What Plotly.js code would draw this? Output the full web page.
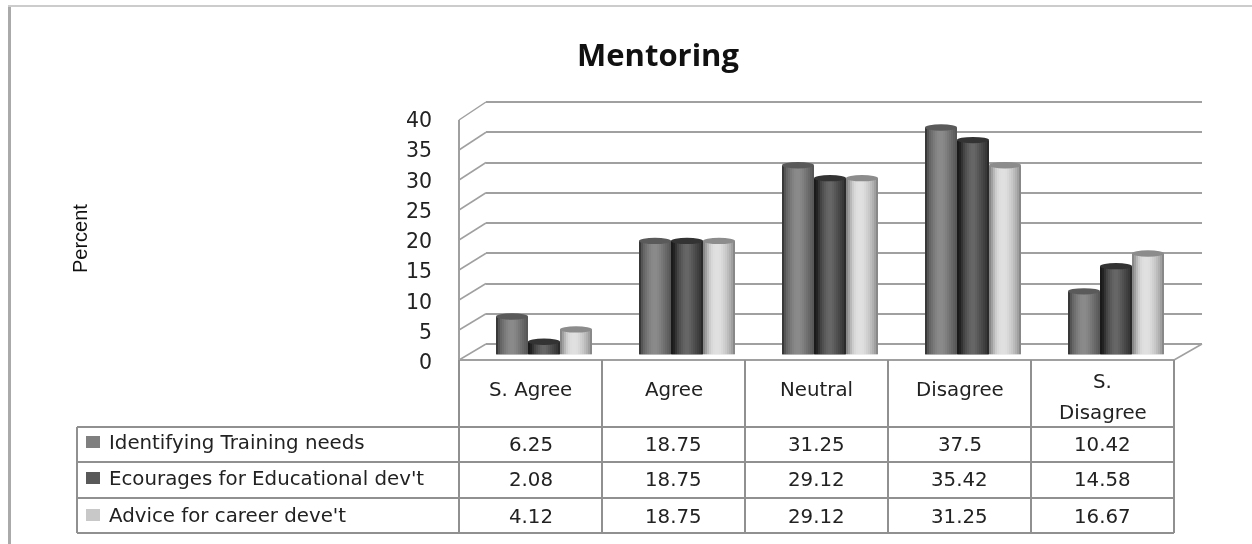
<!DOCTYPE html>
<html><head><meta charset="utf-8">
<script src="https://cdn.plot.ly/plotly-3.0.1.min.js"></script>
<style>html,body{margin:0;padding:0;background:#fff}#c{width:1252px;height:544px;filter:blur(0.5px)}</style>
</head><body><div id="c"></div>
<script>
const categories = ["S. Agree","Agree","Neutral","Disagree","S.<br>Disagree"];
const seriesNames = ["Identifying Training needs","Ecourages for Educational dev't","Advice for career deve't"];
const training = [6.25,18.75,31.25,37.5,10.42];
const educational = [2.08,18.75,29.12,35.42,14.58];
const career = [4.12,18.75,29.12,31.25,16.67];
const yTicks = [0,5,10,15,20,25,30,35,40];
const all = [training,educational,career];

const W=1252,H=544;
const px=x=>x/W, py=y=>(H-y)/H;
const FONT="DejaVu Sans, Verdana, sans-serif", TXT="#222", GRID="#a0a0a0", TGRID="#909090";

// shading ramps, one per cylinder, left edge to right edge
const ramps=[
 ["#383838","#555555","#666666","#707070","#7a7a7a","#828282","#888888","#8a8a8a","#8a8a8a","#868686","#808080","#787878","#707070","#686868","#606060","#585858"],
 ["#1a1a1a","#222222","#333333","#444444","#505050","#5a5a5a","#626262","#666666","#666666","#606060","#585858","#505050","#484848","#404040","#383838","#2a2a2a"],
 ["#888888","#a0a0a0","#b8b8b8","#cccccc","#d8d8d8","#dedede","#e0e0e0","#e0e0e0","#dedede","#d8d8d8","#d0d0d0","#c8c8c8","#bcbcbc","#b0b0b0","#a0a0a0","#888888"]];
const topCol=["#5a5a5a","#333333","#8c8c8c"];
const swatch=["#7f7f7f","#595959","#c8c8c8"];

// cylinder geometry in category units: one category spans 143 px
const unit=1/143, sliceW=2*unit, barW=32*unit;
const gap=[-47.5*unit,-15.5*unit,16.5*unit];
const traces=[];
traces.push({type:"scatter",x:[0],y:[0],xaxis:"x",yaxis:"y",mode:"none",showlegend:false,hoverinfo:"skip"});
traces.push({type:"scatter",x:[0],y:[0],xaxis:"x3",yaxis:"y3",mode:"none",showlegend:false,hoverinfo:"skip"});
all.forEach((vals,s)=>{
  ramps[s].forEach((col,i)=>{
    traces.push({type:"bar",x:[0,1,2,3,4],y:vals,xaxis:"x2",yaxis:"y2",
      name:seriesNames[s],showlegend:false,hoverinfo:"skip",
      offset:gap[s]+i*sliceW,width:sliceW,
      marker:{color:col,line:{width:0}}});
  });
});

const shapes=[],ann=[];
const L=(x0,y0,x1,y1,c=GRID,w=2)=>shapes.push({type:"line",xref:"paper",yref:"paper",x0:px(x0),y0:py(y0),x1:px(x1),y1:py(y1),line:{color:c,width:w},layer:"below"});

// outer picture frame
L(9.5,5,9.5,544,"#aaaaaa",3); L(8,6,1252,6,"#cccccc",2);

// wall/floor frame
const fx=459,bx=486,fr=1174,br=1202,f0=360,f40=120,b0=344,b40=102;
const bStep=(b0-b40)/40;
yTicks.forEach(t=>{
  const fy=f0+(f40-f0)*t/40, by=b0+(b40-b0)*t/40;
  L(fx,fy,bx,by,GRID,1.5);
});
L(fx,f40,fx,f0); L(fx,f0,fr,f0); L(fr,f0,br,b0,GRID,1.5);

// table grid
const colX=[459,602,745,888,1031,1174];
const r0=360,r1=427,r2=462,r3=498,r4=533,tl=77;
colX.forEach(x=>L(x,r0,x,r4,TGRID));
L(tl,r1,tl,r4,TGRID);
[r1,r2,r3,r4].forEach(y=>L(tl,y,fr,y,TGRID));

// cylinder caps and feet, data-referenced
all.forEach((vals,s)=>vals.forEach((v,c)=>{
  const x0=c+gap[s],x1=x0+barW;
  shapes.push({type:"circle",xref:"x2",yref:"y2",x0,x1,y0:-0.3,y1:0.3,fillcolor:ramps[s][7],line:{width:0},layer:"below"});
  shapes.push({type:"circle",xref:"x2",yref:"y2",x0,x1,y0:v-0.5,y1:v+0.55,fillcolor:topCol[s],line:{width:0},layer:"above"});
}));

// table text
const T=(text,x,y,o={})=>ann.push(Object.assign({text,x,y,xref:"paper",yref:"paper",showarrow:false,font:{family:FONT,size:19.8,color:TXT},xanchor:"center",yanchor:"middle"},o));
const rowY=[444,479.5,516], labelY=[442,478,515];
categories.forEach((c,i)=>{
  const parts=c.split("<br>"), cx=px((colX[i]+colX[i+1])/2);
  if(parts.length==1) T(c,cx,py(389));
  else { T(parts[0],cx,py(381)); T(parts[1],cx,py(412)); }
});
all.forEach((vals,s)=>{
  T(seriesNames[s],px(107),py(labelY[s]),{xanchor:"left"});
  shapes.push({type:"rect",xref:"paper",yref:"paper",x0:px(86),x1:px(100),y0:py(labelY[s]-6),y1:py(labelY[s]+6),fillcolor:swatch[s],line:{width:0}});
  vals.forEach((v,i)=>T(String(v),px((colX[i]+colX[i+1])/2),py(rowY[s])));
});
T("Percent",px(80),py(239),{textangle:-90,font:{family:"Liberation Sans, Arial, sans-serif",size:20,color:"#111"}});

const layout={
  width:W,height:H,margin:{l:0,r:0,t:0,b:0},paper_bgcolor:"#fff",plot_bgcolor:"rgba(0,0,0,0)",
  showlegend:false,barmode:"overlay",
  title:{text:"<b>Mentoring</b>",x:658/W,xanchor:"center",y:py(55),yanchor:"middle",font:{family:"Open Sans, sans-serif",size:31,color:"#111"}},
  // back wall gridlines; padded range so the 0 and 40 lines are kept
  xaxis:{domain:[px(bx),px(br)],range:[0,1],visible:false,fixedrange:true},
  yaxis:{domain:[py(b0+bStep*2),py(b40-bStep*2)],range:[-2,42],tickvals:yTicks,showgrid:true,gridcolor:GRID,gridwidth:2,showticklabels:false,zeroline:false,ticks:"",showline:false,fixedrange:true},
  // bars, in their own plane between the front edge and the back wall
  xaxis2:{domain:[px(472),px(1187)],range:[-0.5,4.5],visible:false,anchor:"y2",fixedrange:true},
  yaxis2:{domain:[py(354.5),py(112.5)],range:[0,40],visible:false,anchor:"x2",fixedrange:true},
  // value axis labels on the front edge
  xaxis3:{domain:[px(fx),px(fr)],range:[0,1],visible:false,anchor:"y3",fixedrange:true},
  yaxis3:{domain:[py(362),py(120)],range:[0,40],anchor:"x3",tickvals:yTicks,ticktext:yTicks.map(String),showgrid:false,zeroline:false,showline:false,ticks:"",ticklabelstandoff:26,
    tickfont:{family:FONT,size:20.5,color:TXT},fixedrange:true},
  shapes,annotations:ann
};
Plotly.newPlot("c",traces,layout,{displayModeBar:false,staticPlot:true});
</script></body></html>
